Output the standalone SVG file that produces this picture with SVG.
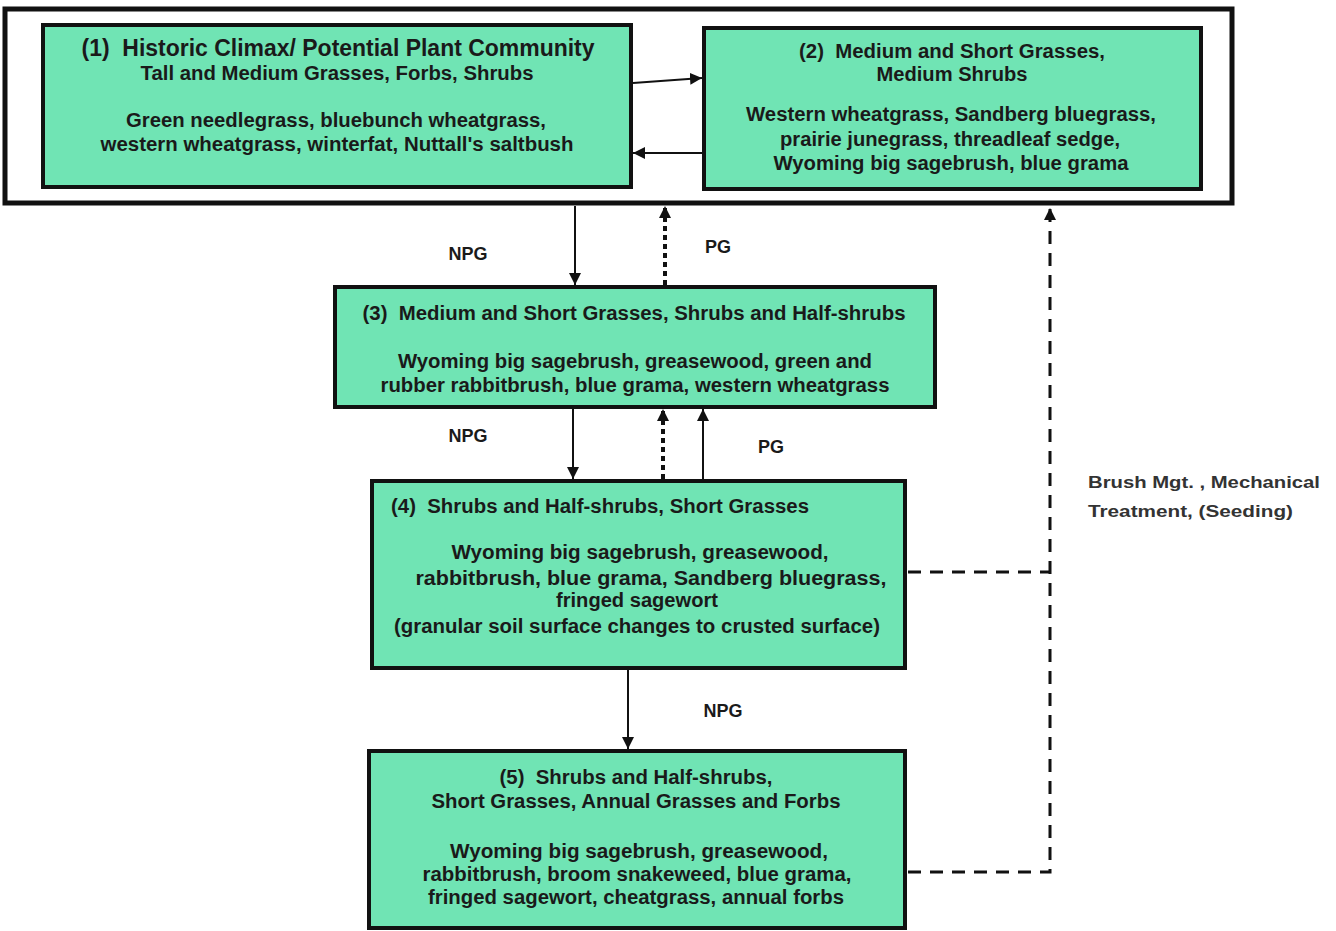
<svg xmlns="http://www.w3.org/2000/svg" width="1336" height="931" viewBox="0 0 1336 931">
<defs>
<style>
.box{fill:#70e4b4;stroke:#111;stroke-width:4}
.outer{fill:#fff;stroke:#111;stroke-width:5}
.t{font-family:"Liberation Sans",Arial,sans-serif;font-weight:bold;fill:#1a1a1a;text-anchor:middle}
.b{font-size:19.5px}
.h{font-size:23px}
.lbl{font-family:"Liberation Sans",Arial,sans-serif;font-weight:bold;fill:#1a1a1a;font-size:18px;text-anchor:middle}
.side{font-family:"Liberation Sans",Arial,sans-serif;font-weight:bold;fill:#333;font-size:17px}
.solid{fill:none;stroke:#111;stroke-width:2}
.dot{fill:none;stroke:#111;stroke-width:4;stroke-dasharray:5 4}
.dash{fill:none;stroke:#111;stroke-width:3;stroke-dasharray:13 9}
</style>
<marker id="ah" viewBox="0 0 10 10" refX="10" refY="5" markerWidth="12" markerHeight="12" markerUnits="userSpaceOnUse" orient="auto">
<path d="M0,0 L10,5 L0,10 z" fill="#111"/>
</marker>
</defs>
<rect width="1336" height="931" fill="#fff"/>
<g id="frame"><rect class="outer" x="5" y="9" width="1227" height="194"/></g>
<g id="node1">
<rect class="box" x="43" y="25" width="588" height="162"/>
<text class="t h" x="338" y="56" textLength="513" lengthAdjust="spacingAndGlyphs" xml:space="preserve">(1)  Historic Climax/ Potential Plant Community</text>
<text class="t b" x="337" y="80" textLength="393" lengthAdjust="spacingAndGlyphs">Tall and Medium Grasses, Forbs, Shrubs</text>
<text class="t b" x="336" y="127" textLength="420" lengthAdjust="spacingAndGlyphs">Green needlegrass, bluebunch wheatgrass,</text>
<text class="t b" x="337" y="151" textLength="473" lengthAdjust="spacingAndGlyphs">western wheatgrass, winterfat, Nuttall's saltbush</text>
</g>
<g id="node2">
<rect class="box" x="704" y="28" width="497" height="161"/>
<text class="t b" x="952" y="58" textLength="306" lengthAdjust="spacingAndGlyphs" xml:space="preserve">(2)  Medium and Short Grasses,</text>
<text class="t b" x="952" y="81" textLength="151" lengthAdjust="spacingAndGlyphs">Medium Shrubs</text>
<text class="t b" x="951" y="121" textLength="410" lengthAdjust="spacingAndGlyphs">Western wheatgrass, Sandberg bluegrass,</text>
<text class="t b" x="950" y="146" textLength="340" lengthAdjust="spacingAndGlyphs">prairie junegrass, threadleaf sedge,</text>
<text class="t b" x="951" y="170" textLength="355" lengthAdjust="spacingAndGlyphs">Wyoming big sagebrush, blue grama</text>
</g>
<g id="node3">
<rect class="box" x="335" y="287" width="600" height="120"/>
<text class="t b" x="634" y="320" textLength="543" lengthAdjust="spacingAndGlyphs" xml:space="preserve">(3)  Medium and Short Grasses, Shrubs and Half-shrubs</text>
<text class="t b" x="635" y="368" textLength="474" lengthAdjust="spacingAndGlyphs">Wyoming big sagebrush, greasewood, green and</text>
<text class="t b" x="635" y="392" textLength="509" lengthAdjust="spacingAndGlyphs">rubber rabbitbrush, blue grama, western wheatgrass</text>
</g>
<g id="node4">
<rect class="box" x="372" y="481" width="533" height="187"/>
<text class="t b" x="600" y="513" textLength="418" lengthAdjust="spacingAndGlyphs" xml:space="preserve">(4)  Shrubs and Half-shrubs, Short Grasses</text>
<text class="t b" x="640" y="559" textLength="377" lengthAdjust="spacingAndGlyphs">Wyoming big sagebrush, greasewood,</text>
<text class="t b" x="651" y="585" textLength="471" lengthAdjust="spacingAndGlyphs">rabbitbrush, blue grama, Sandberg bluegrass,</text>
<text class="t b" x="637" y="607" textLength="162" lengthAdjust="spacingAndGlyphs">fringed sagewort</text>
<text class="t b" x="637" y="633" textLength="486" lengthAdjust="spacingAndGlyphs">(granular soil surface changes to crusted surface)</text>
</g>
<g id="node5">
<rect class="box" x="369" y="751" width="536" height="177"/>
<text class="t b" x="636" y="784" textLength="273" lengthAdjust="spacingAndGlyphs" xml:space="preserve">(5)  Shrubs and Half-shrubs,</text>
<text class="t b" x="636" y="808" textLength="409" lengthAdjust="spacingAndGlyphs">Short Grasses, Annual Grasses and Forbs</text>
<text class="t b" x="639" y="858" textLength="378" lengthAdjust="spacingAndGlyphs">Wyoming big sagebrush, greasewood,</text>
<text class="t b" x="637" y="881" textLength="429" lengthAdjust="spacingAndGlyphs">rabbitbrush, broom snakeweed, blue grama,</text>
<text class="t b" x="636" y="904" textLength="416" lengthAdjust="spacingAndGlyphs">fringed sagewort, cheatgrass, annual forbs</text>
</g>
<g id="connectors">
<line class="solid" x1="633" y1="83" x2="702" y2="78" marker-end="url(#ah)"/>
<line class="solid" x1="704" y1="153" x2="633" y2="153" marker-end="url(#ah)"/>
<line class="solid" x1="575" y1="206" x2="575" y2="285" marker-end="url(#ah)"/>
<line class="dot" x1="665" y1="285" x2="665" y2="206" marker-end="url(#ah)"/>
<line class="solid" x1="573" y1="409" x2="573" y2="479" marker-end="url(#ah)"/>
<line class="dot" x1="663" y1="479" x2="663" y2="409" marker-end="url(#ah)"/>
<line class="solid" x1="703" y1="479" x2="703" y2="409" marker-end="url(#ah)"/>
<line class="solid" x1="628" y1="670" x2="628" y2="749" marker-end="url(#ah)"/>
<line class="dash" x1="908" y1="572" x2="1050" y2="572"/>
<polyline class="dash" points="908,872 1050,872 1050,208" marker-end="url(#ah)"/>
</g>
<g id="labels">
<text class="lbl" x="468" y="260">NPG</text>
<text class="lbl" x="718" y="253">PG</text>
<text class="lbl" x="468" y="442">NPG</text>
<text class="lbl" x="771" y="453">PG</text>
<text class="lbl" x="723" y="717">NPG</text>
<text class="side" x="1088" y="488" textLength="232" lengthAdjust="spacingAndGlyphs">Brush Mgt. , Mechanical</text>
<text class="side" x="1088" y="517" textLength="205" lengthAdjust="spacingAndGlyphs">Treatment, (Seeding)</text>
</g>
</svg>
